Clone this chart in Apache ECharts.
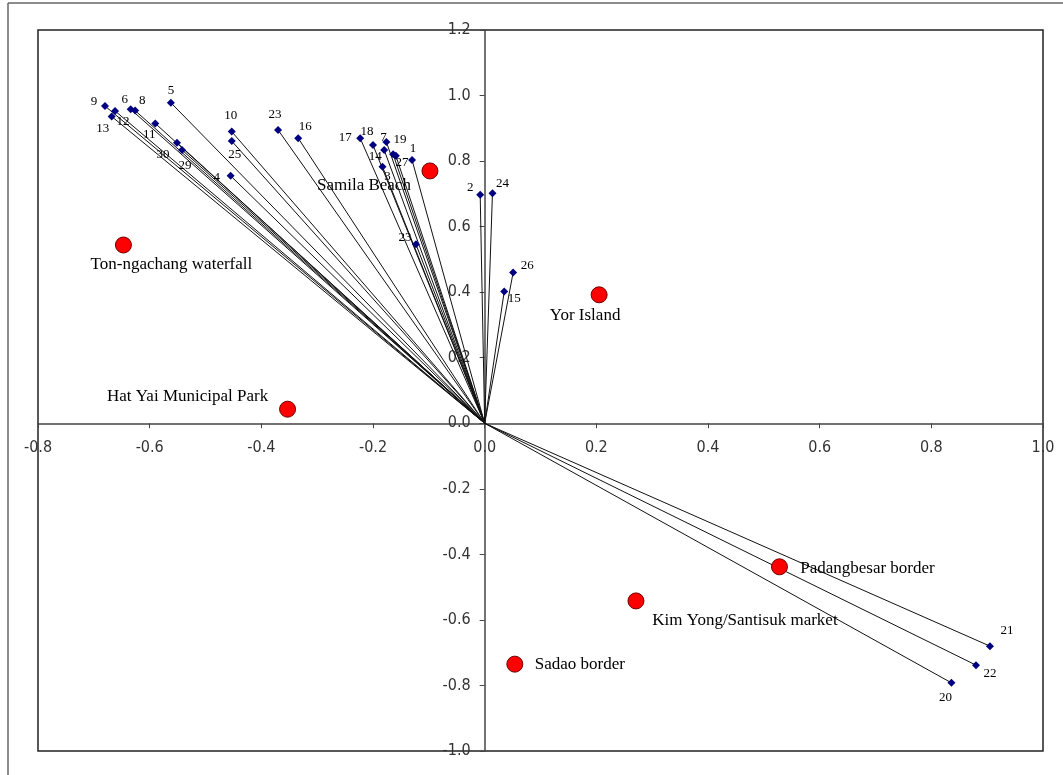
<!DOCTYPE html>
<html>
<head>
<meta charset="utf-8">
<script src="https://cdn.jsdelivr.net/npm/echarts@6/dist/echarts.min.js"></script>
<style>
  html, body { margin: 0; padding: 0; background: #fff; }
  #main { width: 1063px; height: 775px; }
</style>
</head>
<body>
<div id="main"></div>
<script>
// variables (blue diamonds), each joined to the origin
var varNames = ['1','2','3','4','5','6','7','8','9','10','11','12','13','14','15','16','17','18','19','20','21','22','23','23','24','25','26','27','29','30'];
var varX = [-0.130,-0.008,-0.183,-0.455,-0.562,-0.634,-0.176,-0.626,-0.680,-0.453,-0.590,-0.662,-0.668,-0.180,0.035,-0.334,-0.223,-0.200,-0.164,0.836,0.905,0.880,-0.370,-0.123,0.014,-0.453,0.051,-0.159,-0.542,-0.551];
var varY = [0.803,0.697,0.783,0.755,0.978,0.958,0.858,0.954,0.968,0.890,0.915,0.953,0.936,0.834,0.402,0.870,0.870,0.849,0.821,-0.792,-0.680,-0.738,0.895,0.546,0.702,0.861,0.460,0.816,0.834,0.856];

// places (red circles)
var placeNames = ['Samila Beach','Ton-ngachang waterfall','Yor Island','Hat Yai Municipal Park','Padangbesar border','Kim Yong/Santisuk market','Sadao border'];
var placeX = [-0.098,-0.647,0.205,-0.353,0.528,0.271,0.054];
var placeY = [0.770,0.544,0.392,0.043,-0.438,-0.542,-0.735];

// axis ranges
var xMin = -0.8, xMax = 1.0, yMin = -1.0, yMax = 1.2, step = 0.2;

// label nudges in pixels (dx, dy)
var varLabelOff = [[1,-12],[-10,-7],[5,10],[-14,2],[0,-12],[-6,-10],[-3,-5],[7,-10],[-11,-4],[-1,-16],[-6,11],[8,11],[-9,12],[-9,7],[10,7],[7,-12],[-15,-1],[-6,-13],[7,-15],[-6,15],[17,-16],[14,8],[-3,-15],[-11,-7],[10,-10],[3,13],[14,-7],[6,7],[3,16],[-14,12]];
var placeLabelOff = [[-66,15],[48,20],[-14,21],[-100,-13],[88,2],[109,20],[65,0]];

var gridL = 38, gridT = 30, gridR = 20, gridB = 24;
var W = 1063, H = 775;
// where the zero lines fall: two helper grids put their edge axes on them
var plotW = W - gridL - gridR, plotH = H - gridT - gridB;
var xZeroPx = plotW * (0 - xMin) / (xMax - xMin);
var yZeroFromBottom = plotH * (0 - yMin) / (yMax - yMin);

var chart = echarts.init(document.getElementById('main'));

var series = [];
for (var i = 0; i < varNames.length; i++) {
  series.push({
    type: 'line',
    data: [[0, 0], [varX[i], varY[i]]],
    symbol: 'none',
    silent: true,
    lineStyle: { color: '#111', width: 1 },
    z: 2
  });
}

var varData = [];
for (var i = 0; i < varNames.length; i++) {
  varData.push({
    value: [varX[i], varY[i]],
    name: varNames[i],
    label: { offset: varLabelOff[i] }
  });
}
series.push({
  type: 'scatter',
  data: varData,
  symbol: 'diamond',
  symbolSize: 8,
  itemStyle: { color: '#000080', opacity: 1 },
  label: {
    show: true,
    position: 'inside',
    formatter: function (p) { return p.name; },
    fontFamily: 'Liberation Serif, serif',
    fontSize: 13,
    color: '#000'
  },
  z: 4
});

var placeData = [];
for (var i = 0; i < placeNames.length; i++) {
  placeData.push({
    value: [placeX[i], placeY[i]],
    name: placeNames[i],
    label: { offset: placeLabelOff[i] }
  });
}
series.push({
  type: 'scatter',
  data: placeData,
  symbol: 'circle',
  symbolSize: 16,
  itemStyle: { color: '#ff0000', borderColor: '#700000', borderWidth: 1, opacity: 1 },
  label: {
    show: true,
    position: 'inside',
    formatter: function (p) { return p.name; },
    fontFamily: 'Liberation Serif, serif',
    fontSize: 17,
    color: '#000'
  },
  z: 5
});

var axisFont = 'DejaVu Sans Condensed, Liberation Sans, sans-serif';
var fmt = function (v) { return v.toFixed(1); };
var axisLineStyle = { color: '#444', width: 1.5 };

chart.setOption({
  animation: false,
  backgroundColor: '#fff',
  grid: [
    { left: gridL, top: gridT, right: gridR, bottom: gridB, show: true, borderColor: '#222', borderWidth: 1.5 },
    { left: gridL, top: gridT, right: gridR, bottom: gridB + yZeroFromBottom },
    { left: gridL + xZeroPx, top: gridT, right: gridR, bottom: gridB }
  ],
  xAxis: [
    { gridIndex: 0, type: 'value', min: xMin, max: xMax, show: false },
    {
      gridIndex: 1, type: 'value', position: 'bottom',
      min: xMin, max: xMax, interval: step,
      splitLine: { show: false },
      axisLine: { onZero: false, lineStyle: axisLineStyle },
      axisTick: { show: true, length: 5, lineStyle: { color: '#444' } },
      axisLabel: { margin: 17, fontFamily: axisFont, fontSize: 16, color: '#333', formatter: fmt }
    },
    { gridIndex: 2, type: 'value', min: xMin, max: xMax, show: false }
  ],
  yAxis: [
    { gridIndex: 0, type: 'value', min: yMin, max: yMax, show: false },
    { gridIndex: 1, type: 'value', min: yMin, max: yMax, show: false },
    {
      gridIndex: 2, type: 'value', position: 'left',
      min: yMin, max: yMax, interval: step,
      splitLine: { show: false },
      axisLine: { onZero: false, lineStyle: axisLineStyle },
      axisTick: { show: true, length: 5, lineStyle: { color: '#444' } },
      axisLabel: { margin: 14, fontFamily: axisFont, fontSize: 16, color: '#333', formatter: fmt }
    }
  ],
  graphic: [
    { type: 'line', shape: { x1: 8, y1: 3, x2: 1063, y2: 3 }, style: { stroke: '#666', lineWidth: 1.5 } },
    { type: 'line', shape: { x1: 8, y1: 3, x2: 8, y2: 775 }, style: { stroke: '#666', lineWidth: 1.5 } }
  ],
  series: series
});
</script>
</body>
</html>
